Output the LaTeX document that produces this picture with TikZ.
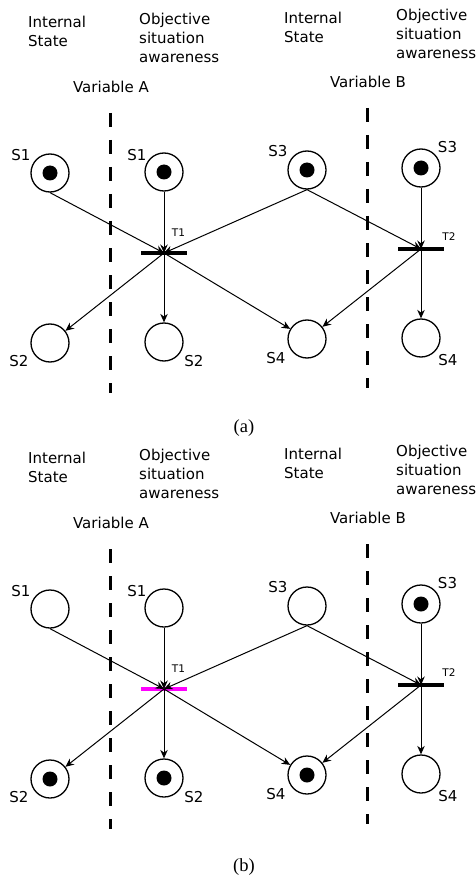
\documentclass[tikz,border=0pt]{standalone}
\usepackage{fontspec}
\setmainfont{Liberation Serif}
\newfontfamily\diagfont{DejaVu Sans}
\usetikzlibrary{arrows.meta}

\definecolor{firing}{RGB}{255,0,255}

\tikzset{
  placenode/.style={circle, draw, line width=1.3pt, minimum size=38pt, inner sep=0pt},
  markednode/.style={placenode, path picture={\fill (path picture bounding box.center) circle (7.5pt);}},
  transbar/.style={rectangle, fill=#1, minimum width=46pt, minimum height=4.2pt, inner sep=0pt},
  flow/.style={line width=1pt, -{Stealth[length=8.5pt,width=7.5pt]}},
  lbl/.style={font=\diagfont\fontsize{15}{17}\selectfont, inner sep=0pt},
  tlabel/.style={font=\diagfont\fontsize{10.5}{12}\selectfont, inner sep=0pt},
  head/.style={font=\diagfont\fontsize{15}{19}\selectfont, align=left, anchor=west, inner sep=0pt},
  divider/.style={line width=3pt, dash pattern=on 14pt off 13pt},
  capt/.style={font=\fontsize{18.5}{20}\selectfont, inner sep=0pt},
}

% One net: #1..#8 = styles of places s1a,s1b,s3a,s3b,s2a,s2b,s4a,s4b; #9 = colour of T1
\newcommand\petrinet[9]{%
  \node[head] (is1) at (28,31.5) {Internal\\State};
  \node[head] (osa1) at (139,37.5) {Objective\\situation\\awareness};
  \node[head] (is2) at (284,27.5) {Internal\\State};
  \node[head] (osa2) at (396,34) {Objective\\situation\\awareness};
  \node[lbl] (vara) at (111,87) {Variable A};
  \node[lbl] (varb) at (368,82) {Variable B};
  \draw[divider] (110,113) -- (110,393);
  \draw[divider] (367,108) -- (367,388);
  % places
  \node[#1] (s1a) at (50,173) {};
  \node[#2] (s1b) at (164,172) {};
  \node[#3] (s3a) at (307,170) {};
  \node[#4] (s3b) at (421,168) {};
  \node[#5] (s2a) at (50,343) {};
  \node[#6] (s2b) at (164,342) {};
  \node[#7] (s4a) at (307,339) {};
  \node[#8] (s4b) at (421,338) {};
  % transitions
  \node[transbar=#9] (t1) at (164,253) {};
  \node[transbar=black] (t2) at (421,249) {};
  % labels
  \node[lbl] (l1a) at (21,155) {S1};
  \node[lbl] (l1b) at (137,155) {S1};
  \node[lbl] (l3a) at (278,151) {S3};
  \node[lbl] (l3b) at (447.5,147) {S3};
  \node[lbl] (l2a) at (19,361) {S2};
  \node[lbl] (l2b) at (194,361) {S2};
  \node[lbl] (l4a) at (276,358) {S4};
  \node[lbl] (l4b) at (448,360) {S4};
  \node[tlabel] (lt1) at (178.5,233) {T1};
  \node[tlabel] (lt2) at (449,237) {T2};
  % arcs
  \draw[flow] (s1a.south) -- (t1.center);
  \draw[flow] (s1b.south) -- (t1.center);
  \draw[flow] (s3a.south) -- (t1.center);
  \draw[flow] (s3a.south) -- (t2.center);
  \draw[flow] (s3b.south) -- (t2.center);
  \draw[flow] (t1.center) -- (s2a);
  \draw[flow] (t1.center) -- (s2b);
  \draw[flow] (t1.center) -- (s4a);
  \draw[flow] (t2.center) -- (s4a);
  \draw[flow] (t2.center) -- (s4b);
}

\begin{document}
\begin{tikzpicture}[x=1pt, y=-1pt]
  \useasboundingbox (0,0) rectangle (475,877);
  \begin{scope}[name prefix=a-]
    \petrinet{markednode}{markednode}{markednode}{markednode}{placenode}{placenode}{placenode}{placenode}{black}
  \end{scope}
  \begin{scope}[shift={(0,436)}, name prefix=b-]
    \petrinet{placenode}{placenode}{placenode}{markednode}{markednode}{markednode}{markednode}{placenode}{firing}
  \end{scope}
  \node[capt] (capa) at (244,428) {(a)};
  \node[capt] (capb) at (244,867) {(b)};
\end{tikzpicture}
\end{document}
